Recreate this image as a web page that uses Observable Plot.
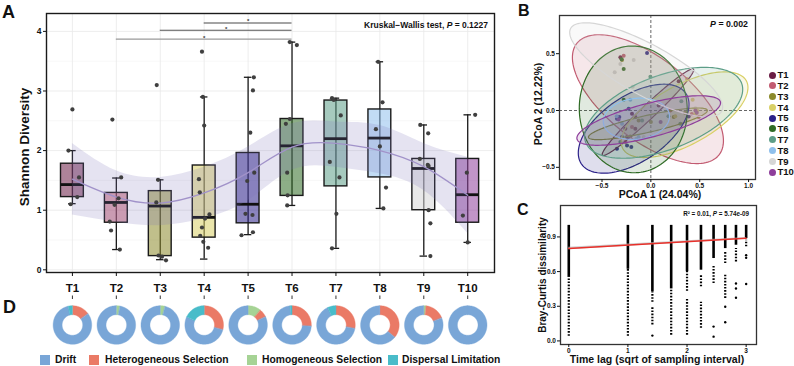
<!DOCTYPE html>
<html><head><meta charset="utf-8">
<script src="https://cdn.jsdelivr.net/npm/d3@7"></script>
<script src="https://cdn.jsdelivr.net/npm/@observablehq/plot@0.6"></script>
<style>
body{margin:0;background:#fff;}
#fig{position:relative;width:794px;height:366px;overflow:hidden;font-family:"Liberation Sans",Arial,sans-serif;font-weight:bold;color:#111;background:#fff;}
.abs{position:absolute;}
.t{position:absolute;white-space:nowrap;line-height:1;}
</style></head><body><div id="fig"></div>
<script>
// ---------------- DATA ----------------
const groups = ["T1","T2","T3","T4","T5","T6","T7","T8","T9","T10"];
const groupColors = ["#6b1d45","#c25b71","#8c8a2b","#d9d066","#2b2189","#2f6b25","#5d9e88","#8fc0ec","#d6d6d6","#8e3e9b"];

// Panel A: boxplot statistics (Shannon diversity)
const whiskerLow  = [1.11, 0.34, 0.17, 0.18, 0.59, 1.08, 0.36, 1.03, 0.23, 0.46];
const boxQ1       = [1.22, 0.79, 0.23, 0.54, 0.78, 1.24, 1.40, 1.55, 1.00, 0.79];
const boxMedian   = [1.43, 1.13, 1.07, 0.88, 1.10, 2.08, 2.20, 2.21, 1.70, 1.26];
const boxQ3       = [1.78, 1.29, 1.32, 1.75, 1.96, 2.53, 2.84, 2.69, 1.86, 1.86];
const whiskerHigh = [2.00, 1.54, 1.51, 2.90, 3.23, 3.82, 2.88, 3.49, 2.43, 2.60];
// Panel A: jittered samples (values and horizontal jitter per group)
const sampleValues = [
  [2.69,2.00,1.55,1.22,1.10],
  [2.52,1.55,1.20,1.09,0.81,0.66,0.34],
  [3.10,1.51,1.13,0.24,0.22,0.16],
  [3.66,2.90,2.42,1.52,1.30,0.93,0.86,0.71,0.57,0.47,0.37],
  [3.23,3.01,2.30,1.63,1.49,0.94,0.92,0.63,0.58],
  [3.82,3.77,2.53,2.45,1.63,1.25,1.08],
  [2.88,2.85,2.59,1.81,1.55,0.94,0.36],
  [3.49,2.81,2.36,2.07,1.38,1.03],
  [2.43,2.29,1.86,1.76,1.74,1.00,0.78,0.23],
  [2.60,1.63,0.91,0.46]
];
const sampleJitter = [
  [0,-0.09,0.15,0.11,-0.04],
  [-0.09,0.11,0.05,-0.04,-0.15,-0.12,0.08],
  [-0.08,-0.05,-0.09,-0.04,0.04,0.13],
  [-0.05,-0.03,0,-0.12,-0.10,0.12,0.02,-0.05,-0.09,-0.02,0.09],
  [0.13,0.11,0.05,0.14,-0.02,-0.06,0.10,0.11,-0.15],
  [-0.05,0.11,-0.05,-0.14,-0.11,-0.10,-0.11],
  [-0.09,-0.05,0.11,-0.14,0.08,0.01,-0.09],
  [-0.04,0.06,-0.09,0,0.14,0.08],
  [-0.08,0.10,-0.09,0.09,0.11,0.11,0.15,0.15],
  [0.17,-0.02,-0.11,0]
];
// Panel A: smoothed trend and its confidence band
const smoothFit   = [1.52, 1.22, 1.12, 1.29, 1.63, 2.06, 2.12, 2.00, 1.73, 1.25];
const smoothUpper = [2.12, 1.66, 1.55, 1.72, 2.06, 2.45, 2.48, 2.42, 2.12, 1.89];
const smoothLower = [0.92, 0.80, 0.74, 0.86, 1.16, 1.67, 1.72, 1.61, 1.33, 0.61];
// Panel A: pairwise significance brackets
const sigFrom = [4, 3, 2];
const sigTo   = [6, 6, 6];
const sigY    = [4.14, 4.02, 3.87];
const sigColor = ["#4a4a4a", "#555555", "#9a9a9a"];
const sigLabel = ["*", "*", "*"];
const yTicksA = [0, 1, 2, 3, 4];

// Panel B: PCoA sample scores per group
const pcoaPoints = [
  [[-0.312,0.468],[0.285,0.257],[0.080,0.044],[-0.193,-0.029],[-0.159,-0.058],[-0.261,-0.161],[-0.159,-0.161],[-0.244,-0.234]],
  [[-0.278,0.482],[0.200,0.000],[0.490,-0.058],[-0.193,-0.146],[-0.261,-0.278],[0.420,-0.030]],
  [[-0.295,0.444],[0.234,-0.058],[-0.125,-0.088],[-0.210,-0.228],[0.000,-0.100],[0.350,-0.020]],
  [[0.370,0.278],[0.428,0.094],[0.473,0.000],[0.456,-0.030],[0.250,-0.050]],
  [[-0.039,0.506],[-0.227,0.015],[-0.323,-0.058],[-0.347,-0.073],[0.387,-0.053],[-0.295,-0.234],[-0.347,-0.336],[-0.244,-0.307],[-0.200,-0.320]],
  [[-0.278,0.365],[-0.278,0.094],[-0.300,0.450]],
  [[-0.005,0.298],[0.312,0.082],[0.302,-0.117],[-0.090,-0.088],[-0.312,-0.278],[0.180,-0.050]],
  [[-0.210,0.094],[-0.295,-0.117],[-0.125,-0.234],[-0.350,-0.050],[-0.150,-0.250]],
  [[-0.176,0.444],[-0.312,0.409],[-0.370,0.336],[-0.186,0.210],[-0.073,-0.234],[0.456,0.020]],
  [[0.456,0.000],[0.470,-0.020],[-0.330,-0.080],[0.100,-0.100]]
];
// Panel B: 95% ellipses (centre, semi-axes, rotation in degrees)
const ellipseCx    = [-0.030,-0.030,-0.030, 0.345,-0.176,-0.180, 0.131,-0.148,-0.048,-0.022];
const ellipseCy    = [-0.015, 0.100,-0.117,-0.037,-0.160, 0.010,-0.020,-0.073, 0.358,-0.088];
const ellipseA     = [0.600, 0.880, 0.620, 0.700, 0.620, 0.560, 0.840, 0.340, 0.855, 0.752];
const ellipseB     = [0.065, 0.380, 0.075, 0.270, 0.300, 0.550, 0.330, 0.180, 0.230, 0.150];
const ellipseAngle = [39, -32, 11, 24, 27.6, -60, 17, 5, -24.7, 12.4];
const pcoaXTicks = [-0.5, 0, 0.5, 1.0];
const pcoaYTicks = [-0.5, 0, 0.5];

// Panel C: Bray-Curtis dissimilarity vs time lag
const lagX      = [0, 1, 1.414, 1.732, 2, 2.236, 2.449, 2.646, 2.828, 3];
const denseLow  = [0.55, 0.62, 0.426, 0.45, 0.60, 0.612, 0.713, 0.799, 0.828, 0.885];
const denseHigh = [1.0, 1.0, 1.0, 1.0, 1.0, 1.0, 1.0, 1.0, 1.0, 1.0];
const sparseX   = [0, 1, 1.414, 1.414, 1.732, 2, 2, 2.236, 2.236, 2.449, 2.646, 2.646, 2.828, 3];
const sparseLow = [0.04, 0.04, 0.334, 0.138, 0.05, 0.43, 0.05, 0.469, 0.109, 0.497, 0.670, 0.368, 0.684, 0.814];
const sparseHigh= [0.55, 0.62, 0.426, 0.300, 0.45, 0.60, 0.368, 0.569, 0.334, 0.656, 0.770, 0.569, 0.799, 0.871];
const lonelyX   = [1.414, 2.449, 2.449, 2.646, 2.646, 2.828, 2.828, 2.828, 3, 3, 3];
const lonelyY   = [0.046, 0.124, 0.037, 0.296, 0.161, 0.497, 0.454, 0.374, 0.742, 0.719, 0.492];
const fitX      = [0, 3];
const fitY      = [0.800, 0.888];
const fitLow    = [0.790, 0.880];
const fitHigh   = [0.810, 0.896];
const lagTicks  = [0, 1, 2, 3];
const brayTicks = [0, 0.3, 0.6, 0.9];

// Panel D: community assembly process shares (clockwise from top)
const processes = ["Homogeneous Selection", "Heterogeneous Selection", "Drift", "Dispersal Limitation"];
const processColors = ["#a6d395", "#ea7a66", "#79a6d7", "#49bcc9"];
const shareHom  = [0,    0.03, 0.04, 0,    0.11, 0,     0,    0,    0.02, 0];
const shareHet  = [0.15, 0,    0,    0.29, 0.07, 0.26,  0.28, 0.36, 0.17, 0];
const shareDrift= [0.815,0.97, 0.96, 0.53, 0.82, 0.725, 0.65, 0.64, 0.81, 1.0];
const shareDisp = [0.035,0,    0,    0.18, 0,    0.015, 0.07, 0,    0,    0];
const legendOrder = ["Drift", "Heterogeneous Selection", "Homogeneous Selection", "Dispersal Limitation"];

// ---------------- HELPERS ----------------
const fig = document.getElementById("fig");
const FONT = "'Liberation Sans', Arial, sans-serif";
function place(el, left, top) {
  const d = document.createElement("div"); d.className = "abs";
  d.style.left = left + "px"; d.style.top = top + "px";
  d.appendChild(el); fig.appendChild(d);
}
function addText(html, x, baseline, fs, anchor = "start", color = "#111") {
  const d = document.createElement("div"); d.className = "t";
  d.innerHTML = html; d.style.fontSize = fs + "px"; d.style.color = color;
  d.style.left = x + "px"; d.style.top = (baseline - 0.846 * fs) + "px";
  const tx = anchor === "middle" ? "-50%" : anchor === "end" ? "-100%" : "0";
  d.style.transform = `translateX(${tx})`;
  fig.appendChild(d);
}
function addVText(html, cx, cy, fs) {
  const d = document.createElement("div"); d.className = "t";
  d.innerHTML = html; d.style.fontSize = fs + "px";
  d.style.left = cx + "px"; d.style.top = cy + "px";
  d.style.transform = "translate(-50%,-50%) rotate(-90deg)";
  fig.appendChild(d);
}
const baseStyle = {fontFamily: FONT, fontWeight: "bold", fontSize: "9px", color: "#111", background: "transparent", overflow: "visible"};

// ---------------- PANEL A ----------------
const boxes = groups.map((g, i) => ({x: i + 1, lo: whiskerLow[i], q1: boxQ1[i], med: boxMedian[i], q3: boxQ3[i], hi: whiskerHigh[i], color: groupColors[i]}));
const samples = sampleValues.flatMap((vals, i) => vals.map((v, k) => ({x: i + 1 + sampleJitter[i][k], v})));
const smooth = groups.map((g, i) => ({x: i + 1, fit: smoothFit[i], lo: smoothLower[i], hi: smoothUpper[i]}));
const sig = sigFrom.map((a, i) => ({a, b: sigTo[i], y: sigY[i], c: sigColor[i], s: sigLabel[i]}));
const halfBox = 0.26, halfCap = 0.085, halfMed = 0.26;
const xDomA = [0.41, 10.61];

const plotA = Plot.plot({
  width: 500, height: 300, marginLeft: 46, marginRight: 6, marginTop: 13, marginBottom: 28,
  style: baseStyle,
  x: {domain: xDomA}, y: {domain: [-0.045, 4.30]}, color: {type: "identity"},
  marks: [
    Plot.ruleY([0.5, 1.5, 2.5, 3.5], {stroke: "#f1f1f1", strokeWidth: 0.6}),
    Plot.ruleY(yTicksA, {stroke: "#e8e8e8", strokeWidth: 0.8}),
    Plot.ruleX(boxes, {x: "x", stroke: "#e8e8e8", strokeWidth: 0.8}),
    Plot.ruleX(boxes, {x: "x", y1: "lo", y2: "hi", stroke: "#1a1a1a", strokeWidth: 1.3}),
    Plot.ruleY(boxes, {y: "lo", x1: d => d.x - halfCap, x2: d => d.x + halfCap, stroke: "#1a1a1a", strokeWidth: 1.3}),
    Plot.ruleY(boxes, {y: "hi", x1: d => d.x - halfCap, x2: d => d.x + halfCap, stroke: "#1a1a1a", strokeWidth: 1.3}),
    Plot.rect(boxes, {x1: d => d.x - halfBox, x2: d => d.x + halfBox, y1: "q1", y2: "q3", fill: "color", fillOpacity: 0.55, stroke: "#1a1a1a", strokeWidth: 1.4}),
    Plot.ruleY(boxes, {y: "med", x1: d => d.x - halfMed, x2: d => d.x + halfMed, stroke: "#111", strokeWidth: 2.8}),
    Plot.areaY(smooth, {x: "x", y1: "lo", y2: "hi", fill: "#7b75b8", fillOpacity: 0.2, curve: "natural"}),
    Plot.line(smooth, {x: "x", y: "fit", stroke: "#a192c9", strokeWidth: 1.3, curve: "natural"}),
    Plot.dot(samples, {x: "x", y: "v", r: 2.1, fill: "#3f3f3f", stroke: "none"}),
    Plot.ruleY(sig, {y: "y", x1: "a", x2: "b", stroke: "c", strokeWidth: 1.1}),
    Plot.text(sig, {x: d => (d.a + d.b) / 2, y: "y", text: "s", dy: -1.5, fontSize: 6, fill: "#333"}),
    Plot.frame({stroke: "#1a1a1a", strokeWidth: 1.4}),
    Plot.axisX(groups.map((g, i) => i + 1), {tickFormat: d => groups[d - 1], tickSize: 4, tickPadding: 7, fontSize: 11.5, label: null}),
    Plot.axisY(yTicksA, {tickFormat: d3.format("d"), tickSize: 3, tickPadding: 2, fontSize: 8.5, label: null})
  ]
});
place(plotA, 0, 0);

// ---------------- PANEL D ----------------
const kD = 448 / (xDomA[1] - xDomA[0]);
const HD = 57, mtD = 5, cyD = 26.5;
const rOut = 19.3 / kD, rIn = 10.3 / kD;
const shareTable = [shareHom, shareHet, shareDrift, shareDisp];
const donutMarks = [];
groups.forEach((g, i) => {
  let start = 0;
  shareTable.forEach((arr, c) => {
    const f = arr[i];
    if (f <= 0) return;
    const end = start + f;
    const pts = [];
    const n = Math.max(4, Math.ceil(f * 90));
    for (let k = 0; k <= n; k++) { const a = 2 * Math.PI * (start + (end - start) * k / n); pts.push({x: i + 1 + rOut * Math.sin(a), y: rOut * Math.cos(a)}); }
    for (let k = n; k >= 0; k--) { const a = 2 * Math.PI * (start + (end - start) * k / n); pts.push({x: i + 1 + rIn * Math.sin(a), y: rIn * Math.cos(a)}); }
    donutMarks.push(Plot.line(pts, {x: "x", y: "y", fill: processColors[c], stroke: processColors[c], strokeWidth: 0.4, curve: "linear-closed"}));
    start = end;
  });
});
const plotD = Plot.plot({
  width: 500, height: HD, marginLeft: 46, marginRight: 6, marginTop: mtD, marginBottom: 0,
  style: baseStyle,
  x: {domain: xDomA}, y: {domain: [-(HD - mtD - cyD) / kD, cyD / kD], axis: null},
  marks: [
    ...donutMarks,
    Plot.axisX(groups.map((g, i) => i + 1), {anchor: "top", tickFormat: () => "", tickSize: 3.5, stroke: "#333", label: null})
  ]
});
place(plotD, 0, 293);

// ---------------- PANEL B ----------------
function ellipsePoints(cx, cy, a, b, deg) {
  const th = deg * Math.PI / 180, pts = [];
  for (let k = 0; k < 144; k++) {
    const t = 2 * Math.PI * k / 144, ex = a * Math.cos(t), ey = b * Math.sin(t);
    pts.push({x: cx + ex * Math.cos(th) - ey * Math.sin(th), y: cy + ex * Math.sin(th) + ey * Math.cos(th)});
  }
  return pts;
}
const pcoa = pcoaPoints.flatMap((pts, i) => pts.map(([x, y]) => ({x, y, c: groupColors[i]})));
const ellipseMarks = groups.map((g, i) => Plot.line(
  ellipsePoints(ellipseCx[i], ellipseCy[i], ellipseA[i], ellipseB[i], ellipseAngle[i]),
  {x: "x", y: "y", fill: groupColors[i], fillOpacity: 0.15, stroke: groupColors[i], strokeWidth: 1.2, curve: "linear-closed"}));
const plotB = Plot.plot({
  width: 240, height: 200, marginLeft: 39, marginRight: 5, marginTop: 15, marginBottom: 21,
  style: baseStyle,
  x: {domain: [-0.935, 1.071]}, y: {domain: [-0.607, 0.836]}, color: {type: "identity"},
  marks: [
    Plot.ruleX([0], {stroke: "#555", strokeDasharray: "3,2", strokeWidth: 0.9}),
    Plot.ruleY([0], {stroke: "#555", strokeDasharray: "3,2", strokeWidth: 0.9}),
    Plot.dot(pcoa, {x: "x", y: "y", r: 2, fill: "c", stroke: "none"}),
    ...ellipseMarks,
    Plot.frame({stroke: "#333", strokeWidth: 1.3}),
    Plot.axisX(pcoaXTicks, {tickFormat: d3.format(".1f"), tickSize: 3, tickPadding: 1, fontSize: 6.5, label: null}),
    Plot.axisY(pcoaYTicks, {tickFormat: d3.format(".1f"), tickSize: 3, tickPadding: 1.5, fontSize: 6.5, label: null})
  ]
});
place(plotB, 520, 0);

// ---------------- PANEL C ----------------
const dense = lagX.map((x, i) => ({x, lo: denseLow[i], hi: denseHigh[i]}));
const sparse = sparseX.map((x, i) => ({x, lo: sparseLow[i], hi: sparseHigh[i]}));
const lonely = lonelyX.map((x, i) => ({x, y: lonelyY[i]}));
const fit = fitX.map((x, i) => ({x, y: fitY[i], lo: fitLow[i], hi: fitHigh[i]}));
const plotC = Plot.plot({
  width: 240, height: 171, marginLeft: 40, marginRight: 4, marginTop: 10, marginBottom: 22,
  style: baseStyle,
  x: {domain: [-0.14, 3.175]}, y: {domain: [-0.031, 1.172]},
  marks: [
    Plot.ruleX(dense, {x: "x", y1: "lo", y2: "hi", stroke: "#000", strokeWidth: 2.6}),
    Plot.ruleX(sparse, {x: "x", y1: "lo", y2: "hi", stroke: "#000", strokeWidth: 2.2, strokeDasharray: "1.6,1.5"}),
    Plot.dot(lonely, {x: "x", y: "y", r: 1.2, fill: "#000", stroke: "none"}),
    Plot.areaY(fit, {x: "x", y1: "lo", y2: "hi", fill: "#bbbbbb", fillOpacity: 0.7}),
    Plot.line(fit, {x: "x", y: "y", stroke: "#e8302a", strokeWidth: 1.6}),
    Plot.frame({stroke: "#333", strokeWidth: 1.3}),
    Plot.axisX(lagTicks, {tickFormat: d3.format("d"), tickSize: 3, tickPadding: 1, fontSize: 6.5, label: null}),
    Plot.axisY(brayTicks, {tickFormat: d3.format(".1f"), tickSize: 3, tickPadding: 1.5, fontSize: 6.5, label: null})
  ]
});
place(plotC, 520, 195);

// ---------------- TEXT, LEGENDS ----------------
addText("A", 2, 18, 18);
addText("B", 518, 16.5, 16);
addText("C", 517, 216, 16);
addText("D", 3, 313, 18);

addVText("Shannon Diversity", 25, 147, 13.5);
addText("Kruskal\u2212Wallis test, <i>P</i> = 0.1227", 488, 28, 8.5, "end");

addText("<i>P</i> = 0.002", 748, 27, 8.8, "end");
addText("PCoA 1 (24.04%)", 660, 197.5, 10.5, "middle");
addVText("PCoA 2 (12.22%)", 538, 104, 10.5);

addText("R\u00b2 = 0.01, <i>P</i> = 5.74e-09", 749, 216, 6.3, "end");
addText("Time lag (sqrt of sampling interval)", 657, 362.5, 10.5, "middle");
addVText("Bray-Curtis dissimilarity", 543, 275, 10);

// PCoA legend
groups.forEach((g, i) => {
  const cy = 75 + 10.78 * i;
  const dot = document.createElement("div");
  dot.className = "abs";
  Object.assign(dot.style, {left: "768.5px", top: (cy - 3.5) + "px", width: "7px", height: "7px", borderRadius: "50%", background: groupColors[i]});
  fig.appendChild(dot);
  addText(g, 777.5, cy + 3.4, 9.5);
});

// Donut legend
const legendX = {"Drift": [40, 55], "Heterogeneous Selection": [89, 105], "Homogeneous Selection": [247, 262], "Dispersal Limitation": [388, 402]};
legendOrder.forEach(name => {
  const [sx, tx] = legendX[name];
  const sw = document.createElement("div"); sw.className = "abs";
  Object.assign(sw.style, {left: sx + "px", top: "355px", width: "10px", height: "10px", background: processColors[processes.indexOf(name)]});
  fig.appendChild(sw);
  addText(name, tx, 364, 10.3);
});
</script></body></html>
